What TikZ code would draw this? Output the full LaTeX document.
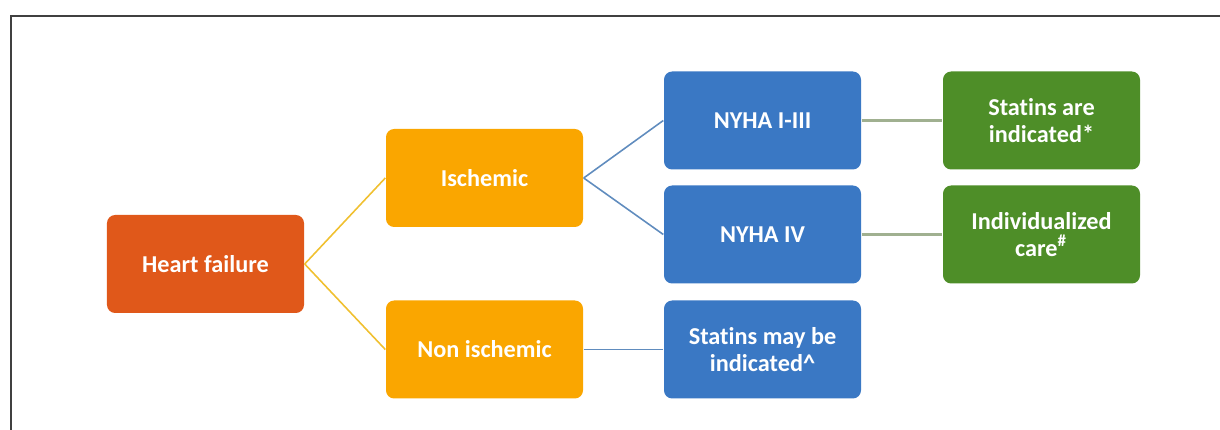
\documentclass[tikz,border=0pt]{standalone}
\usepackage{fontspec}
\setmainfont{Carlito}[RawFeature=-liga]
\definecolor{hfred}{RGB}{224,88,26}
\definecolor{ischorange}{RGB}{250,166,0}
\definecolor{nyhablue}{RGB}{58,120,196}
\definecolor{statgreen}{RGB}{78,142,40}
\definecolor{goldline}{RGB}{240,192,48}
\definecolor{blueline}{RGB}{96,140,190}
\definecolor{greenline}{RGB}{160,176,144}
\tikzset{
  % common look of every box
  box/.style={rounded corners=2.3pt, minimum width=1.97cm, minimum height=0.98cm,
    inner sep=0pt, align=center, text=white, font=\fontsize{6.9}{7.9}\selectfont\bfseries},
  hfbox/.style={box, fill=hfred},
  ischbox/.style={box, fill=ischorange},
  nyhabox/.style={box, fill=nyhablue},
  statbox/.style={box, fill=statgreen},
  % connectors
  goldlink/.style={draw=goldline, line width=0.45pt},
  bluelink/.style={draw=blueline, line width=0.45pt},
  greenlink/.style={draw=greenline, line width=0.6pt}
}

\begin{document}
\begin{tikzpicture}
  \useasboundingbox (0,0) rectangle (12.2,4.3);
  % frame (right and bottom edges cut off)
  \draw[line width=0.5pt, color=black!75] (0.11,0) -- (0.11,4.14) -- (12.2,4.14);

  \node[hfbox]   (hf)      at (2.055,1.66)  {Heart failure};
  \node[ischbox] (isch)    at (4.845,2.52)  {Ischemic};
  \node[ischbox] (nonisch) at (4.845,0.805) {Non ischemic};
  \node[nyhabox] (nyhaone) at (7.625,3.095) {NYHA I-III};
  \node[nyhabox] (nyhafour) at (7.625,1.955) {NYHA IV};
  \node[nyhabox] (statmay) at (7.625,0.805) {Statins may be\\indicated\textasciicircum};
  \node[statbox] (statare) at (10.415,3.095) {Statins are\\indicated*};
  \node[statbox] (indiv)   at (10.415,1.955) {Individualized\\care\textsuperscript{\#}};

  \draw[goldlink] (hf.east) -- (isch.west);
  \draw[goldlink] (hf.east) -- (nonisch.west);
  \draw[bluelink] (isch.east) -- (nyhaone.west);
  \draw[bluelink] (isch.east) -- (nyhafour.west);
  \draw[bluelink] (nonisch.east) -- (statmay.west);
  \draw[greenlink] (nyhaone.east) -- (statare.west);
  \draw[greenlink] (nyhafour.east) -- (indiv.west);
\end{tikzpicture}
\end{document}
